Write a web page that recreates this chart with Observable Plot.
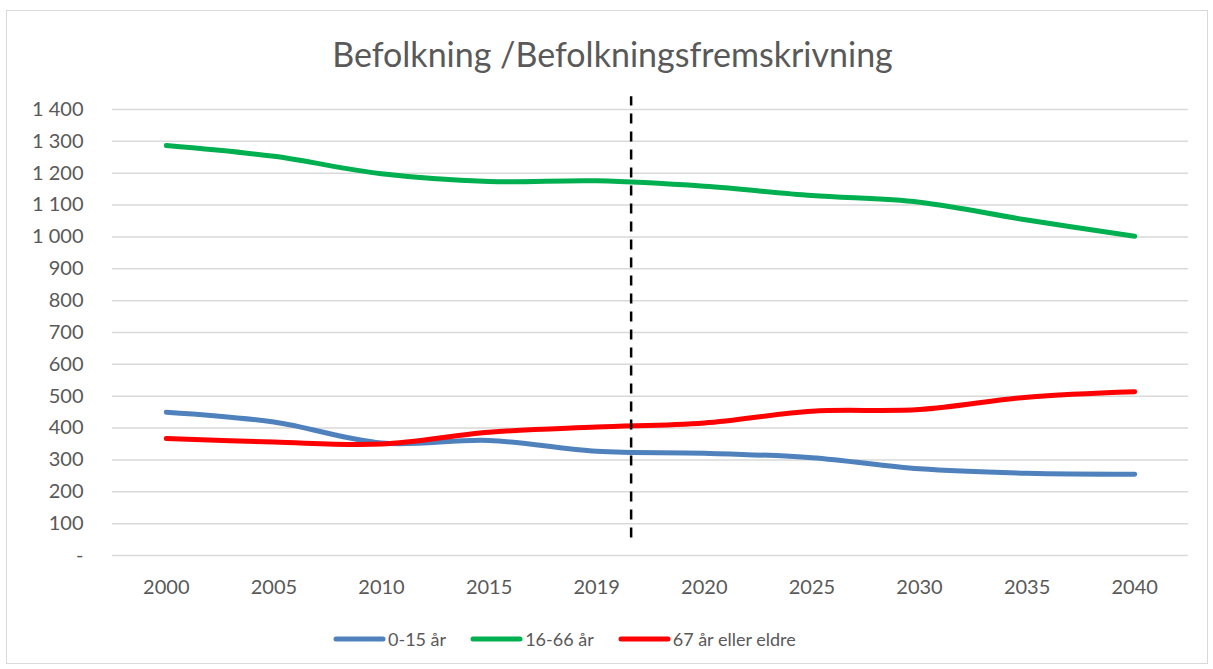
<!DOCTYPE html>
<html><head><meta charset="utf-8">
<script src="https://cdn.jsdelivr.net/npm/d3@7"></script>
<script src="https://cdn.jsdelivr.net/npm/@observablehq/plot@0.6"></script>
<style>
body{margin:0;background:#fff;font-family:Lato,sans-serif;width:1213px;height:669px;overflow:hidden;position:relative;}
#frame{position:absolute;left:6px;top:10px;width:1202px;height:654px;border:1px solid #d9d9d9;box-sizing:border-box;}
#title{position:absolute;left:6px;top:37px;width:1213px;text-align:center;font-size:34px;line-height:34px;color:#595959;}
#chart{position:absolute;left:0;top:85px;}
#legend{position:absolute;left:333px;top:630px;display:flex;align-items:center;font-size:18px;line-height:18px;color:#595959;}
.item{display:flex;align-items:center;margin-right:24px;}
.item svg{margin-right:2px;}
</style>
</head><body>
<div id="frame"></div>
<div id="title">Befolkning /Befolkningsfremskrivning</div>
<div id="chart"></div>
<div id="legend"></div>
<script>
const years = ["2000","2005","2010","2015","2019","2020","2025","2030","2035","2040"];
const seriesNames = ["0-15 år","16-66 år","67 år eller eldre"];
const seriesColors = ["#4f81bd","#00b050","#ff0000"];
const age0_15 = [450,419,353,361,327,321,307,272,258,255];
const age16_66 = [1287,1253,1198,1174,1176,1159,1130,1109,1053,1002];
const age67plus = [367,356,350,387,403,416,453,458,497,514];
const yTicks = [0,100,200,300,400,500,600,700,800,900,1000,1100,1200,1300,1400];
const dividerIndex = 4.32;      // dashed line between 2019 and 2020
const dividerRange = [55,1440];

const allSeries = [age0_15, age16_66, age67plus];
const rows = [];
allSeries.forEach((vals, s) => vals.forEach((v, i) => rows.push({i, year: years[i], value: v, series: seriesNames[s]})));

const fmt = v => v === 0 ? "-" : d3.format(",")(v).replace(/,/g, " ");

const chart = Plot.plot({
  width: 1213,
  height: 520,
  marginLeft: 112,
  marginRight: 25,
  marginTop: 24,
  marginBottom: 50,
  style: {fontFamily: "Lato, sans-serif", fontSize: "20px", color: "#595959", background: "transparent"},
  x: {type: "linear", domain: [-0.5, years.length - 0.5]},
  y: {domain: [0, 1400]},
  color: {domain: seriesNames, range: seriesColors},
  marks: [
    Plot.ruleY(yTicks, {stroke: "#d9d9d9", strokeWidth: 1.5}),
    Plot.axisY({ticks: yTicks, tickFormat: fmt, tickSize: 0, tickPadding: 29, label: null, fill: "#595959"}),
    Plot.axisX({ticks: d3.range(years.length), tickFormat: i => years[i], tickSize: 0, tickPadding: 24, label: null, fill: "#595959"}),
    Plot.line(rows, {x: "i", y: "value", z: "series", stroke: "series", strokeWidth: 5, curve: "catmull-rom", strokeLinecap: "round", strokeLinejoin: "round"}),
    Plot.ruleX([dividerIndex], {y1: dividerRange[0], y2: dividerRange[1], stroke: "#000", strokeWidth: 2.5, strokeDasharray: "10,8"})
  ]
});
document.getElementById("chart").appendChild(chart);

const legend = document.getElementById("legend");
seriesNames.forEach((name, k) => {
  const item = document.createElement("div");
  item.className = "item";
  item.innerHTML = `<svg width="53" height="10"><line x1="3" y1="5" x2="50" y2="5" stroke="${seriesColors[k]}" stroke-width="5" stroke-linecap="round"/></svg><span>${name}</span>`;
  legend.appendChild(item);
});
</script>
</body></html>
